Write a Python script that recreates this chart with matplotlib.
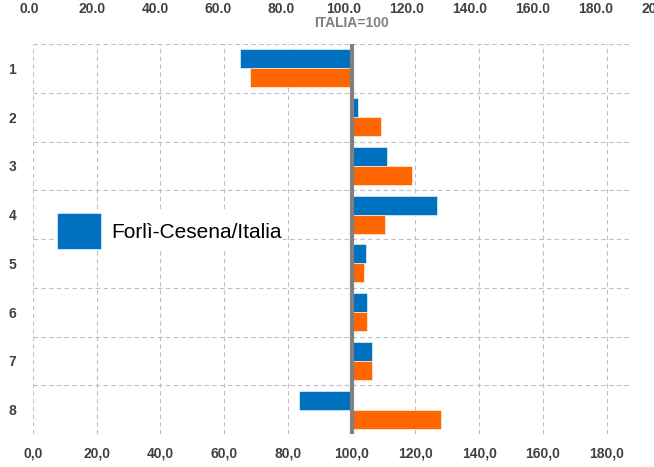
import numpy as np
import matplotlib.pyplot as plt

plt.rcParams['font.family'] = ['Liberation Sans', 'DejaVu Sans']

categorie = ['1', '2', '3', '4', '5', '6', '7', '8']
forli_cesena = [64.9, 102.1, 111.2, 126.7, 104.5, 104.8, 106.5, 83.4]
altra_serie = [68.2, 109.3, 119.0, 110.4, 103.8, 104.9, 106.5, 127.9]
xticks = np.arange(0, 181, 20)
xticks_top = np.arange(0, 201, 20)

base = 100
blu = '#0070C0'
arancio = '#FF6600'
testo = '#404040'
griglia = '#BFBFBF'

fig = plt.figure(figsize=(6.54, 4.67), dpi=100)
W, H = 654, 467
ax = fig.add_axes([33 / W, (H - 434) / H, 599 / W, 390 / H])

y = np.arange(len(categorie))
h = 0.39
ax.barh(y - h / 2, np.array(forli_cesena) - base, left=base, height=h,
        color=blu, edgecolor='white', linewidth=0.4, label='Forlì-Cesena/Italia', zorder=3)
ax.barh(y + h / 2, np.array(altra_serie) - base, left=base, height=h,
        color=arancio, edgecolor='white', linewidth=0.4, zorder=3)
ax.axvline(base, color='#808080', lw=3, zorder=4)

ax.set_xlim(0, 188)
ax.set_ylim(len(categorie) - 0.5, -0.5)
ax.set_xticks(xticks)
ax.set_xticklabels([f'{v:.1f}'.replace('.', ',') for v in xticks])
ax.set_yticks(y)
ax.set_yticklabels(categorie)
ax.set_yticks(np.arange(-0.5, len(categorie)), minor=True)
ax.tick_params(axis='both', which='both', length=0, labelsize=10, labelcolor=testo)
ax.tick_params(axis='x', pad=9)
ax.tick_params(axis='y', pad=12)
for lab in ax.get_xticklabels() + ax.get_yticklabels():
    lab.set_fontweight('bold')
ax.grid(axis='x', which='major', color=griglia, linestyle=(0, (4, 3)), lw=0.8, zorder=0)
ax.grid(axis='y', which='minor', color=griglia, linestyle=(0, (4, 3)), lw=0.8, zorder=0)
for s in ax.spines.values():
    s.set_visible(False)

ax.annotate('ITALIA=100', xy=(base, 1), xycoords=('data', 'axes fraction'),
            xytext=(0, 10), textcoords='offset points', ha='center', va='bottom',
            color='#808080', fontsize=10, fontweight='bold')

leg = ax.legend(loc='upper left', bbox_to_anchor=((56 - 33) / 599, (434 - 212) / 390),
                frameon=True, fancybox=False, framealpha=1, facecolor='white',
                edgecolor='none', fontsize=15, handlelength=2.1, handleheight=2.3,
                handletextpad=0.5, borderpad=0.05, borderaxespad=0)
leg.set_zorder(5)

# asse superiore (scala leggermente diversa, esce dal bordo destro)
top = fig.add_axes([29 / W, (H - 434) / H, 630 / W, 390 / H])
top.patch.set_visible(False)
top.set_xlim(0, 200)
top.set_xticks(xticks_top)
top.set_xticklabels([f'{v:.1f}' for v in xticks_top])
top.set_yticks([])
top.xaxis.tick_top()
top.tick_params(axis='x', length=0, labelsize=10, labelcolor=testo, pad=20)
for lab in top.get_xticklabels():
    lab.set_fontweight('bold')
for s in top.spines.values():
    s.set_visible(False)

fig.savefig('out.png', dpi=100)
